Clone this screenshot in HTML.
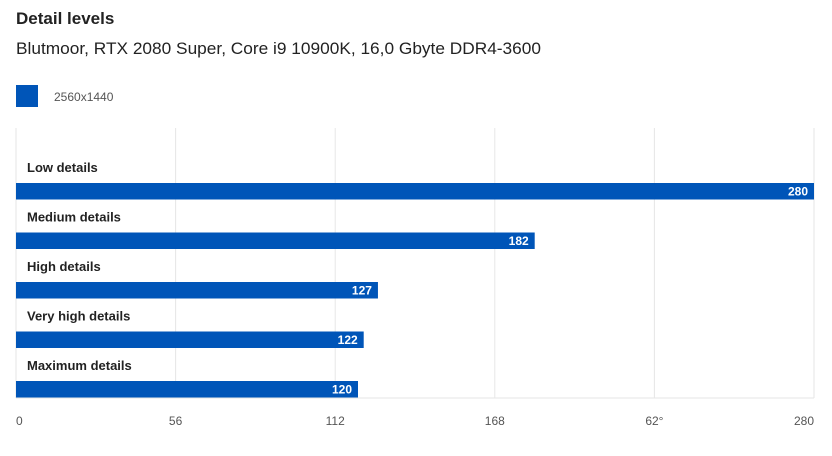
<!DOCTYPE html>
<html><head><meta charset="utf-8">
<style>
body{margin:0;background:#fff;font-family:"Liberation Sans",sans-serif;}
svg text{font-family:"Liberation Sans",sans-serif;}
</style></head>
<body>
<svg width="832" height="451" xmlns="http://www.w3.org/2000/svg">
<text x="16" y="24" font-size="17" font-weight="bold" fill="#222">Detail levels</text>
<text x="16" y="54" font-size="17" fill="#222" textLength="525" lengthAdjust="spacingAndGlyphs">Blutmoor, RTX 2080 Super, Core i9 10900K, 16,0 Gbyte DDR4-3600</text>
<rect x="16" y="85" width="22" height="22" fill="#0055b8"/>
<text x="54" y="101" font-size="12" fill="#555">2560x1440</text>
<g id="grid"></g>
<g id="bars"></g>
<g id="ticks"></g>
</svg>
<script>
const categories=["Low details","Medium details","High details","Very high details","Maximum details"];
const values=[280,182,127,122,120];
const tickValues=[0,56,112,168,224,280];
const tickLabels=["0","56","112","168","62°","280"];
const xMin=0,xMax=280,x0=16,x1=814,plotTop=128,plotBottom=398;
const NS="http://www.w3.org/2000/svg";
function sx(v){return x0+(v-xMin)/(xMax-xMin)*(x1-x0);}
function rowY(i){return 183+i*49.5;}
function mk(tag,attrs,parent){const e=document.createElementNS(NS,tag);for(const k in attrs)e.setAttribute(k,attrs[k]);parent.appendChild(e);return e;}
const grid=document.getElementById('grid'),bars=document.getElementById('bars'),ticks=document.getElementById('ticks');
tickValues.forEach((t,i)=>{
  const l=mk('line',{x1:sx(t),x2:sx(t),y1:plotTop,y2:plotBottom,stroke:'#e6e6e6','stroke-width':1},grid);
  
  
  const anchor=i===0?'start':(i===tickValues.length-1?'end':'middle');
  const tx=mk('text',{x:sx(t),y:425,'font-size':12,fill:'#555','text-anchor':anchor},ticks);
  tx.textContent=tickLabels[i];
  
  
});
const bl=mk('line',{x1:x0,x2:x1,y1:plotBottom,y2:plotBottom,stroke:'#e6e6e6','stroke-width':1},grid);


categories.forEach((c,i)=>{
  const y=rowY(i);
  const lab=mk('text',{x:27,y:y-11,'font-size':13,'font-weight':'bold',fill:'#222'},bars);
  lab.textContent=c;
  
  
  const r=mk('rect',{x:x0,y:y,width:sx(values[i])-x0,height:16.5,fill:'#0055b8'},bars);
  
  
  const v=mk('text',{x:sx(values[i])-6,y:y+12.5,'font-size':12,'font-weight':'bold',fill:'#fff','text-anchor':'end'},bars);
  v.textContent=values[i];
  
  
});
</script>
</body></html>
